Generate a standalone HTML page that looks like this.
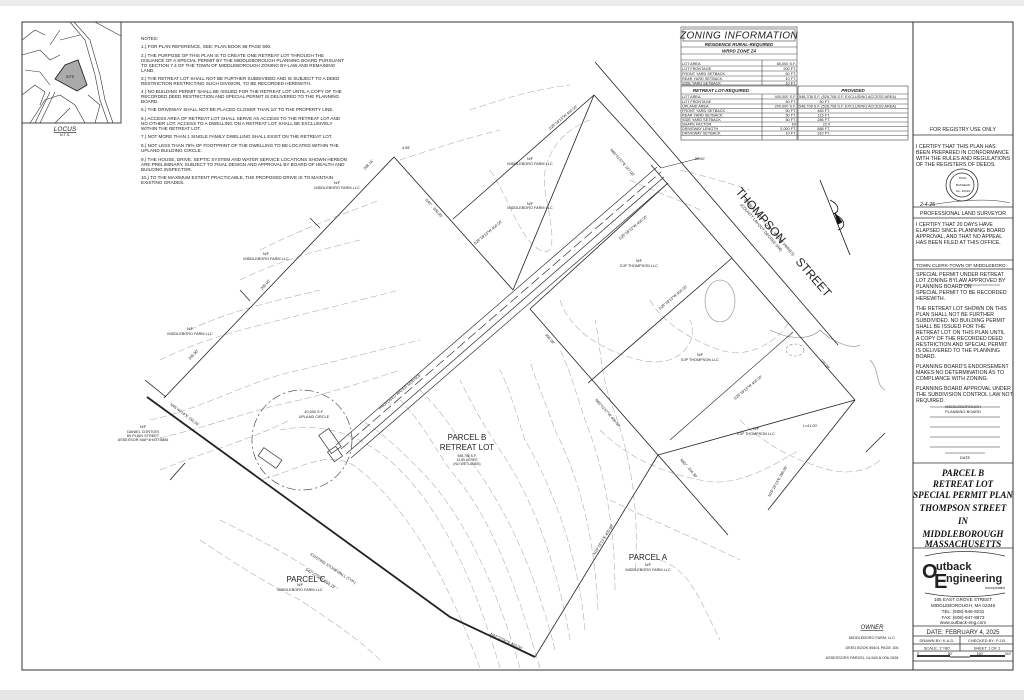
<!DOCTYPE html>
<html><head><meta charset="utf-8"><style>
html,body{margin:0;padding:0;background:#fff;}
svg{display:block;}
text{font-family:"Liberation Sans",sans-serif;fill:#222;}
.t{font-size:4.6px;}
.s{font-size:3.8px;}
.ti{font-family:"Liberation Serif",serif;font-style:italic;font-weight:bold;font-size:9px;fill:#111;}
</style></head><body>
<svg width="1024" height="700" viewBox="0 0 1024 700" xmlns="http://www.w3.org/2000/svg">
<rect width="1024" height="700" fill="#fff"/>
<rect x="0" y="0" width="1024" height="6" fill="#ececec"/>
<rect x="0" y="690" width="1024" height="10" fill="#e6e6e6"/>
<rect x="22" y="22" width="991" height="648" fill="none" stroke="#333" stroke-width="1"/>
<line x1="913" y1="22" x2="913" y2="670" stroke="#333" stroke-width="1"/>

<g stroke="#333" stroke-width="0.6" fill="none">
<rect x="22" y="22" width="99" height="101" stroke-width="0.9"/>
<path d="M70 22 L85 40 L95 75 L100 100 L108 123"/>
<path d="M74 22 L90 40 L100 75 L105 100 L113 123"/>
<path d="M95 22 L121 36"/>
<path d="M22 40 L35 30 L45 35 M22 55 L40 50 L50 60 L60 55 M25 70 L40 72 L50 85 M22 95 L35 85 L45 92 L40 105 M30 123 L45 100 L60 95 L75 105 L85 123 M55 123 L70 108 M95 123 L100 105 L88 95"/>
<path d="M35 123 L50 92 M40 123 L55 92 M60 40 L80 35 M50 45 L60 30"/>
</g>
<polygon points="55,79 65,65 78,60 87,85 77,91" fill="#aaa" stroke="#222" stroke-width="0.9"/>
<text x="66" y="78" class="s">SITE</text>
<text x="65" y="131" font-family="Liberation Serif" font-style="italic" font-size="6.5" text-anchor="middle" text-decoration="underline">LOCUS</text>
<text x="65" y="136" class="s" text-anchor="middle">N.T.S.</text>

<g class="t">
<text x="141" y="40">NOTES:</text>
<text x="141" y="48">1.) FOR PLAN REFERENCE, SEE: PLAN BOOK 68 PAGE 590.</text>
<text x="141" y="57">2.) THE PURPOSE OF THIS PLAN IS TO CREATE ONE RETREAT LOT THROUGH THE</text>
<text x="141" y="62">ISSUANCE OF A SPECIAL PERMIT BY THE MIDDLEBOROUGH PLANNING BOARD PURSUANT</text>
<text x="141" y="67">TO SECTION 7.4 OF THE TOWN OF MIDDLEBOROUGH ZONING BY-LAW AND REMAINING</text>
<text x="141" y="72">LAND.</text>
<text x="141" y="80">3.) THE RETREAT LOT SHALL NOT BE FURTHER SUBDIVIDED AND IS SUBJECT TO A DEED</text>
<text x="141" y="85">RESTRICTION RESTRICTING SUCH DIVISION, TO BE RECORDED HEREWITH.</text>
<text x="141" y="93">4.) NO BUILDING PERMIT SHALL BE ISSUED FOR THE RETREAT LOT UNTIL A COPY OF THE</text>
<text x="141" y="98">RECORDED DEED RESTRICTION AND SPECIAL PERMIT IS DELIVERED TO THE PLANNING</text>
<text x="141" y="103">BOARD.</text>
<text x="141" y="111">5.) THE DRIVEWAY SHALL NOT BE PLACED CLOSER THAN 10' TO THE PROPERTY LINE.</text>
<text x="141" y="120">6.) ACCESS AREA OF RETREAT LOT SHALL SERVE AS ACCESS TO THE RETREAT LOT AND</text>
<text x="141" y="125">NO OTHER LOT. ACCESS TO A DWELLING ON A RETREAT LOT SHALL BE EXCLUSIVELY</text>
<text x="141" y="130">WITHIN THE RETREAT LOT.</text>
<text x="141" y="138">7.) NOT MORE THAN 1 SINGLE FAMILY DWELLING SHALL EXIST ON THE RETREAT LOT.</text>
<text x="141" y="147">8.) NOT LESS THAN 75% OF FOOTPRINT OF THE DWELLING TO BE LOCATED WITHIN THE</text>
<text x="141" y="152">UPLAND BUILDING CIRCLE.</text>
<text x="141" y="161">9.) THE HOUSE, DRIVE, SEPTIC SYSTEM AND WATER SERVICE LOCATIONS SHOWN HEREON</text>
<text x="141" y="166">ARE PRELIMINARY, SUBJECT TO FINAL DESIGN AND APPROVAL BY BOARD OF HEALTH AND</text>
<text x="141" y="171">BUILDING INSPECTOR.</text>
<text x="141" y="179">10.) TO THE MAXIMUM EXTENT PRACTICABLE, THE PROPOSED DRIVE IS TO MAINTAIN</text>
<text x="141" y="184">EXISTING GRADES.</text>
</g>

<g stroke="#444" stroke-width="0.6" fill="none">
<rect x="681" y="27" width="116" height="58"/>
<rect x="683" y="29" width="112" height="12"/>
<line x1="681" y1="47" x2="797" y2="47"/><line x1="681" y1="54" x2="797" y2="54"/><line x1="681" y1="60" x2="797" y2="60"/>
<line x1="681" y1="66" x2="797" y2="66"/><line x1="681" y1="71" x2="797" y2="71"/><line x1="681" y1="76" x2="797" y2="76"/><line x1="681" y1="81" x2="797" y2="81"/>
<line x1="762" y1="60" x2="762" y2="85"/>
<rect x="681" y="86" width="116" height="54"/>
<rect x="798" y="86" width="110" height="54"/>
<line x1="681" y1="94" x2="908" y2="94"/>
<line x1="681" y1="99" x2="908" y2="99"/><line x1="681" y1="104" x2="908" y2="104"/><line x1="681" y1="108.5" x2="908" y2="108.5"/>
<line x1="681" y1="113" x2="908" y2="113"/><line x1="681" y1="117.5" x2="908" y2="117.5"/><line x1="681" y1="122" x2="908" y2="122"/>
<line x1="681" y1="126.5" x2="908" y2="126.5"/><line x1="681" y1="131" x2="908" y2="131"/><line x1="681" y1="135.5" x2="908" y2="135.5"/>
<line x1="762" y1="94" x2="762" y2="140"/>
</g>
<text x="739" y="38.5" text-anchor="middle" font-family="Liberation Serif" font-style="italic" font-size="10" letter-spacing="0.4">ZONING INFORMATION</text>
<text x="739" y="46" text-anchor="middle" font-family="Liberation Serif" font-style="italic" font-weight="bold" font-size="4.5">RESIDENCE RURAL-REQUIRED</text>
<text x="739" y="52.5" text-anchor="middle" font-family="Liberation Serif" font-style="italic" font-weight="bold" font-size="4.5">WRPD ZONE Z4</text>
<g class="s">
<text x="682" y="65">LOT AREA</text><text x="796" y="65" text-anchor="end">80,000 S.F.</text>
<text x="682" y="70">LOT FRONTAGE</text><text x="796" y="70" text-anchor="end">200 FT.</text>
<text x="682" y="75">FRONT YARD SETBACK</text><text x="796" y="75" text-anchor="end">50 FT.</text>
<text x="682" y="80">REAR YARD SETBACK</text><text x="796" y="80" text-anchor="end">10 FT.</text>
<text x="682" y="84.5">SIDE YARD SETBACK</text><text x="796" y="84.5" text-anchor="end">10 FT.</text>
<text x="682" y="98">LOT AREA</text><text x="796" y="98" text-anchor="end">400,000 S.F.</text>
<text x="682" y="103">LOT FRONTAGE</text><text x="796" y="103" text-anchor="end">40 FT.</text>
<text x="682" y="107.5">UPLAND AREA</text><text x="796" y="107.5" text-anchor="end">200,000 S.F.</text>
<text x="682" y="112">FRONT YARD SETBACK</text><text x="796" y="112" text-anchor="end">50 FT.</text>
<text x="682" y="116.5">REAR YARD SETBACK</text><text x="796" y="116.5" text-anchor="end">50 FT.</text>
<text x="682" y="121">SIDE YARD SETBACK</text><text x="796" y="121" text-anchor="end">50 FT.</text>
<text x="682" y="125.5">SHAPE FACTOR</text><text x="796" y="125.5" text-anchor="end">60</text>
<text x="682" y="130">DRIVEWAY LENGTH</text><text x="796" y="130" text-anchor="end">2,000 FT.</text>
<text x="682" y="134.5">DRIVEWAY SETBACK</text><text x="796" y="134.5" text-anchor="end">10 FT.</text>
<text x="799" y="98">548,708 S.F. (528,708 S.F. EXCLUDING ACCESS AREA)</text>
<text x="830" y="103" text-anchor="end">50 FT.</text>
<text x="799" y="107.5">548,708 S.F. (528,708 S.F. EXCLUDING ACCESS AREA)</text>
<text x="830" y="112" text-anchor="end">483 FT.</text>
<text x="830" y="116.5" text-anchor="end">115 FT.</text>
<text x="830" y="121" text-anchor="end">286 FT.</text>
<text x="830" y="125.5" text-anchor="end">22.0</text>
<text x="830" y="130" text-anchor="end">888 FT.</text>
<text x="830" y="134.5" text-anchor="end">310 FT.</text>
</g>
<text x="721" y="92" text-anchor="middle" font-family="Liberation Serif" font-style="italic" font-weight="bold" font-size="4.5">RETREAT LOT-REQUIRED</text>
<text x="853" y="92" text-anchor="middle" font-family="Liberation Serif" font-style="italic" font-weight="bold" font-size="4.5">PROVIDED</text>

<g stroke="#aaa" stroke-width="0.55" fill="none" stroke-dasharray="7 3">
<path d="M480 668 C455 600 420 520 360 470 C330 445 300 470 260 480"/>
<path d="M500 668 C480 600 450 520 400 470 C370 440 330 420 280 430"/>
<path d="M520 668 C500 600 470 520 420 470 C400 450 380 430 360 420"/>
<path d="M540 668 C520 600 495 520 450 470 C430 440 420 420 400 400"/>
<path d="M555 650 C540 590 515 520 470 460 C455 430 440 410 420 390"/>
<path d="M570 640 C560 580 540 510 500 450 C480 420 470 400 460 380"/>
<path d="M585 630 C580 570 560 500 525 440 C515 410 510 390 500 370"/>
<path d="M598 610 C595 550 585 490 555 430 C545 400 535 380 530 360"/>
<path d="M615 590 C615 530 605 470 585 420 C575 390 570 370 560 350"/>
<path d="M635 570 C640 510 630 450 610 400 C600 370 600 340 595 320"/>
<path d="M150 420 C200 410 250 380 300 370 C340 360 380 350 420 340"/>
<path d="M150 440 C200 430 250 410 300 400 C340 390 370 380 400 370"/>
<path d="M160 470 C210 450 250 440 290 420"/>
<path d="M160 360 C200 340 240 330 280 320 C320 310 360 300 400 290"/>
<path d="M190 330 C230 310 280 300 320 290"/>
<path d="M240 280 C280 260 320 250 360 240"/>
<path d="M260 250 C300 230 340 215 380 200"/>
<path d="M400 160 C430 150 460 140 500 130"/>
<path d="M470 110 C500 100 530 90 570 85"/>
<path d="M490 170 C510 200 520 240 540 250 C560 260 550 220 545 190 C540 160 560 130 590 120"/>
<path d="M560 300 C570 330 600 350 640 360 C680 370 700 340 690 320"/>
<path d="M650 300 C660 320 690 340 720 350 C750 360 780 340 790 320"/>
<path d="M600 430 C620 450 650 470 700 480 C740 490 780 460 800 450"/>
<path d="M610 500 C650 520 700 540 740 560"/>
<path d="M660 560 C690 570 700 600 720 640"/>
<path d="M740 420 C760 440 790 460 830 470 C850 475 870 470 880 460"/>
<path d="M200 540 C230 560 260 580 300 600 C330 620 360 640 380 660"/>
<path d="M220 520 C260 540 300 560 340 590"/>
<path d="M630 180 C650 190 680 200 700 210"/>
<path d="M680 170 C700 175 720 180 750 190"/>
</g>
<g stroke="#888" stroke-width="0.6" fill="none">
<ellipse cx="720" cy="301" rx="15" ry="21"/>
<ellipse cx="795" cy="350" rx="9" ry="6" stroke-dasharray="3 2"/>
<path d="M770 330 C790 340 810 340 820 330 C830 340 850 350 860 345"/>
<path d="M870 360 C880 370 875 385 885 390"/>
</g>

<g stroke="#222" stroke-width="0.8" fill="none">
<path d="M147 397 L450 617 L535 657" stroke-width="1.8"/>
<polyline points="164,398 394,157 513,290"/>
<line x1="513" y1="290" x2="594" y2="95"/>
<line x1="453" y1="219" x2="594" y2="95"/>
<line x1="594" y1="95" x2="661" y2="168"/>
<line x1="595" y1="62" x2="838" y2="345"/>
<line x1="651" y1="165" x2="855" y2="400"/>
<line x1="530" y1="309" x2="658" y2="455"/>
<line x1="658" y1="455" x2="728" y2="535"/>
<line x1="658" y1="455" x2="535" y2="657"/>
<line x1="588" y1="383" x2="732" y2="258"/>
<line x1="658" y1="455" x2="855" y2="400"/>
<line x1="670" y1="440" x2="793" y2="332" stroke-width="0.6"/>
<line x1="855" y1="400" x2="768" y2="510"/>
<line x1="885" y1="433" x2="866" y2="452"/>
<line x1="530" y1="309" x2="668" y2="183"/>
<line x1="166" y1="397" x2="145" y2="380"/>
<line x1="170" y1="480" x2="185" y2="463"/>
<line x1="250" y1="301" x2="240" y2="290" stroke-width="0.7"/>
<line x1="320" y1="228" x2="310" y2="218" stroke-width="0.7"/>
<line x1="661" y1="168" x2="700" y2="158" stroke-width="0.5"/>
</g>
<g stroke="#333" stroke-width="0.7" fill="none">
<line x1="336" y1="445" x2="657" y2="167"/>
<line x1="341" y1="449" x2="661" y2="172" stroke-dasharray="10 4"/>
<line x1="346" y1="454" x2="664" y2="177"/>
<line x1="351" y1="458" x2="668" y2="183"/>
<rect x="324" y="430" width="12" height="22" transform="rotate(-35 330 441)"/>
<rect x="330" y="448" width="10" height="12" transform="rotate(-35 335 454)"/>
<rect x="259" y="453" width="22" height="10" transform="rotate(35 270 458)"/>
</g>
<circle cx="302" cy="440" r="50" fill="none" stroke="#333" stroke-width="0.6" stroke-dasharray="9 3 2 3"/>

<g class="s" text-anchor="middle">
<text x="337" y="184">N/F</text><text x="337" y="189">MIDDLEBORO FARM LLC</text>
<text x="530" y="205">N/F</text><text x="530" y="209">MIDDLEBORO FARM LLC</text>
<text x="530" y="160">N/F</text><text x="530" y="165">MIDDLEBORO FARM LLC</text>
<text x="266" y="255">N/F</text><text x="266" y="260">MIDDLEBORO FARM LLC</text>
<text x="190" y="330">N/F</text><text x="190" y="335">MIDDLEBORO FARM LLC</text>
<text x="639" y="262">N/F</text><text x="639" y="267">EJP THOMPSON LLC</text>
<text x="700" y="356">N/F</text><text x="700" y="361">EJP THOMPSON LLC</text>
<text x="756" y="430">N/F</text><text x="756" y="435">EJP THOMPSON LLC</text>
<text x="300" y="586">N/F</text><text x="300" y="591">MIDDLEBORO FARM LLC</text>
<text x="648" y="566">N/F</text><text x="648" y="571">MIDDLEBORO FARM LLC</text>
<text x="143" y="428">N/F</text><text x="143" y="433">DANIEL CONTOIS</text><text x="143" y="437">69 PLAIN STREET</text><text x="143" y="441">ASSESSOR MAP:6 LOT:5884</text>
<text x="314" y="413">40,000 S.F.</text><text x="314" y="418">UPLAND CIRCLE</text>
<text x="467" y="457" font-size="3.4">548,708 S.F.</text><text x="467" y="461" font-size="3.4">12.59 ACRES</text><text x="467" y="465" font-size="3.4">(NO WETLANDS)</text>
<text x="810" y="427">L=41.00'</text>
<text x="700" y="160">50.00'</text>
<text x="406" y="149">4.95'</text>
</g>
<g font-family="Liberation Sans" font-size="8" text-anchor="middle">
<text x="467" y="440">PARCEL B</text>
<text x="467" y="450">RETREAT LOT</text>
<text x="306" y="582">PARCEL C</text>
<text x="648" y="560">PARCEL A</text>
</g>
<g class="s">
<text transform="translate(365,170) rotate(-46)">208.16'</text>
<text transform="translate(262,290) rotate(-46)">200.00'</text>
<text transform="translate(190,360) rotate(-46)">205.90'</text>
<text transform="translate(425,200) rotate(48)">N45°.. 300.00'</text>
<text transform="translate(550,130) rotate(-40)">S29°18'13"W 400.00'</text>
<text transform="translate(475,245) rotate(-40)">S29°18'13"W 400.00'</text>
<text transform="translate(620,240) rotate(-40)">S29°18'13"W 400.00'</text>
<text transform="translate(660,310) rotate(-40)">S29°18'13"W 400.00'</text>
<text transform="translate(735,400) rotate(-40)">S29°18'13"W 400.00'</text>
<text transform="translate(610,150) rotate(49)">N60°41'47"E 127.00'</text>
<text transform="translate(545,335) rotate(49)">300.00'</text>
<text transform="translate(595,400) rotate(49)">N60°41'47"W 400.00'</text>
<text transform="translate(680,460) rotate(49)">N60°.. 244.30'</text>
<text transform="translate(380,410) rotate(-40)">PROPOSED WATER SERVICE</text>
<text transform="translate(170,405) rotate(37)">N45°40'14"E 155.26'</text>
<text transform="translate(310,555) rotate(33)">EXISTING STONEWALL (TYP.)</text>
<text transform="translate(305,570) rotate(33)">S42°27'06"E 594.13'</text>
<text transform="translate(490,635) rotate(25)">N42°27'06"E 420.00'</text>
<text transform="translate(595,555) rotate(-58)">N29°18'13"E 400.00'</text>
<text transform="translate(770,497) rotate(-60)">N29°18'13"E 265.00'</text>
<text transform="translate(820,360) rotate(49)">120.00'</text>
</g>
<g font-family="Liberation Serif" fill="#222">
<text font-size="12" transform="translate(735,192) rotate(49)">THOMPSON</text>
<text font-size="12" transform="translate(795,262) rotate(49)">STREET</text>
<text font-size="4" transform="translate(744,200) rotate(49)">(PUBLIC - 50'± R.O.W. - WIDTH VARIES)</text>
<text font-size="4" transform="translate(740,205) rotate(49)">(COUNTY LAYOUT DECREE 546)</text>
</g>
<g stroke="#111" stroke-width="0.8" fill="none">
<line x1="820" y1="180" x2="850" y2="255"/>
<path d="M830 200 C840 205 840 212 833 214 M836 215 C846 220 846 228 838 230"/>
<polygon points="835,213 842,222 838,224" fill="#111"/>
</g>

<text x="872" y="629" text-anchor="middle" font-family="Liberation Serif" font-style="italic" font-size="6" text-decoration="underline">OWNER</text>
<g class="s" text-anchor="middle">
<text x="872" y="639">MIDDLEBORO FARM, LLC</text>
<text x="872" y="649">DEED BOOK 55401 PAGE 106</text>
<text x="862" y="659">ASSESSORS PARCEL 14-545 &amp; 006-1928</text>
</g>

<g stroke="#333" stroke-width="0.8" fill="none">
<line x1="913" y1="135" x2="1013" y2="135"/>
<line x1="913" y1="207" x2="1013" y2="207"/>
<line x1="913" y1="218" x2="1013" y2="218"/>
<line x1="913" y1="260" x2="1013" y2="260"/>
<line x1="913" y1="269" x2="1013" y2="269"/>
<line x1="913" y1="463" x2="1013" y2="463"/>
<line x1="913" y1="548" x2="1013" y2="548"/>
<line x1="913" y1="626" x2="1013" y2="626"/>
<line x1="913" y1="636" x2="1013" y2="636"/>
<line x1="913" y1="644" x2="1013" y2="644"/>
<line x1="913" y1="651" x2="1013" y2="651"/>
<line x1="913" y1="661" x2="1013" y2="661"/>
<line x1="960" y1="636" x2="960" y2="651"/>
<line x1="930" y1="407" x2="1000" y2="407" stroke-width="0.5"/>
<line x1="930" y1="417" x2="1000" y2="417" stroke-width="0.5"/>
<line x1="930" y1="427" x2="1000" y2="427" stroke-width="0.5"/>
<line x1="930" y1="437" x2="1000" y2="437" stroke-width="0.5"/>
<line x1="930" y1="447" x2="1000" y2="447" stroke-width="0.5"/>
<line x1="945" y1="453" x2="985" y2="453" stroke-width="0.5"/>
<line x1="960" y1="285" x2="1000" y2="285" stroke-width="0.5"/>
<circle cx="962" cy="185" r="16"/>
<circle cx="962" cy="185" r="12"/>
<path d="M930 205 C960 200 990 198 1010 203" stroke-width="0.5"/>
<path d="M925 556 C950 550 980 550 1005 556"/>
<path d="M925 593 C950 598 980 598 1005 593"/>
<line x1="917" y1="656" x2="950" y2="656" stroke-width="2"/>
<line x1="970" y1="656" x2="1005" y2="656" stroke-width="2"/>
<line x1="950" y1="657" x2="970" y2="657" stroke-width="1"/>
</g>
<g font-family="Liberation Sans" font-size="5.2" fill="#333">
<text x="963" y="131" text-anchor="middle">FOR REGISTRY USE ONLY</text>
<text x="916" y="148">I CERTIFY THAT THIS PLAN HAS</text>
<text x="916" y="154">BEEN PREPARED IN CONFORMANCE</text>
<text x="916" y="160">WITH THE RULES AND REGULATIONS</text>
<text x="916" y="166">OF THE REGISTERS OF DEEDS.</text>
<text x="920" y="206" font-style="italic">2-4-25</text>
<text x="963" y="215" text-anchor="middle">PROFESSIONAL LAND SURVEYOR</text>
<text x="916" y="226">I CERTIFY THAT 20 DAYS HAVE</text>
<text x="916" y="232">ELAPSED SINCE PLANNING BOARD</text>
<text x="916" y="238">APPROVAL, AND THAT NO APPEAL</text>
<text x="916" y="244">HAS BEEN FILED AT THIS OFFICE.</text>
<text x="916" y="267" font-size="4.8">TOWN CLERK-TOWN OF MIDDLEBORO</text>
<text x="916" y="276">SPECIAL PERMIT UNDER RETREAT</text>
<text x="916" y="282">LOT ZONING BYLAW APPROVED BY</text>
<text x="916" y="288">PLANNING BOARD ON</text>
<text x="916" y="294">SPECIAL PERMIT TO BE RECORDED</text>
<text x="916" y="300">HEREWITH.</text>
<text x="916" y="310">THE RETREAT LOT SHOWN ON THIS</text>
<text x="916" y="316">PLAN SHALL NOT BE FURTHER</text>
<text x="916" y="322">SUBDIVIDED. NO BUILDING PERMIT</text>
<text x="916" y="328">SHALL BE ISSUED FOR THE</text>
<text x="916" y="334">RETREAT LOT ON THIS PLAN UNTIL</text>
<text x="916" y="340">A COPY OF THE RECORDED DEED</text>
<text x="916" y="346">RESTRICTION AND SPECIAL PERMIT</text>
<text x="916" y="352">IS DELIVERED TO THE PLANNING</text>
<text x="916" y="358">BOARD.</text>
<text x="916" y="368">PLANNING BOARD'S ENDORSEMENT</text>
<text x="916" y="374">MAKES NO DETERMINATION AS TO</text>
<text x="916" y="380">COMPLIANCE WITH ZONING.</text>
<text x="916" y="390">PLANNING BOARD APPROVAL UNDER</text>
<text x="916" y="396">THE SUBDIVISION CONTROL LAW NOT</text>
<text x="916" y="402">REQUIRED.</text>
</g>
<g font-family="Liberation Sans" font-size="4" fill="#333" text-anchor="middle">
<text x="963" y="408">MIDDLEBOROUGH</text>
<text x="963" y="413">PLANNING BOARD</text>
<text x="965" y="459">DATE</text>
<text x="963" y="179" font-size="3">PAUL</text>
<text x="963" y="186" font-size="3">BASHEAD</text>
<text x="963" y="192" font-size="3">No. 40016</text>
</g>
<g text-anchor="middle">
<text x="963" y="476" class="ti">PARCEL B</text>
<text x="963" y="487" class="ti">RETREAT LOT</text>
<text x="963" y="498" class="ti" font-size="8.4">SPECIAL PERMIT PLAN</text>
<text x="963" y="511" class="ti">THOMPSON STREET</text>
<text x="963" y="524" class="ti" font-size="7.5">IN</text>
<text x="963" y="537" class="ti">MIDDLEBOROUGH</text>
<text x="963" y="547" class="ti">MASSACHUSETTS</text>
</g>
<g font-family="Liberation Sans" font-weight="bold" fill="#111">
<text x="922" y="578" font-size="20">O</text>
<text x="936" y="570" font-size="11">utback</text>
<text x="934" y="588" font-size="20">E</text>
<text x="946" y="582" font-size="11">ngineering</text>
<text x="985" y="589" font-size="3.5" font-weight="normal">Incorporated</text>
</g>
<g font-family="Liberation Sans" font-size="4.6" fill="#333" text-anchor="middle">
<text x="963" y="601">165 EAST GROVE STREET</text>
<text x="963" y="607">MIDDLEBOROUGH, MA 02346</text>
<text x="963" y="613">TEL: (508)-946-9231</text>
<text x="963" y="619">FAX: (508)-947-8873</text>
<text x="963" y="624">www.outback-eng.com</text>
<text x="963" y="634" font-size="6">DATE:  FEBRUARY 4, 2025</text>
<text x="937" y="642" font-size="4">DRAWN BY: K.A.D.</text>
<text x="987" y="642" font-size="4">CHECKED BY: P.J.B.</text>
<text x="937" y="649.5" font-size="4">SCALE: 1"=80'</text>
<text x="987" y="649.5" font-size="4">SHEET 1 OF 1</text>
<text x="918" y="655" font-size="3.5">0'</text>
<text x="950" y="655" font-size="3.5">80'</text>
<text x="980" y="655" font-size="3.5">160'</text>
<text x="1008" y="655" font-size="3.5">240'</text>
</g>
</svg>
</body></html>
